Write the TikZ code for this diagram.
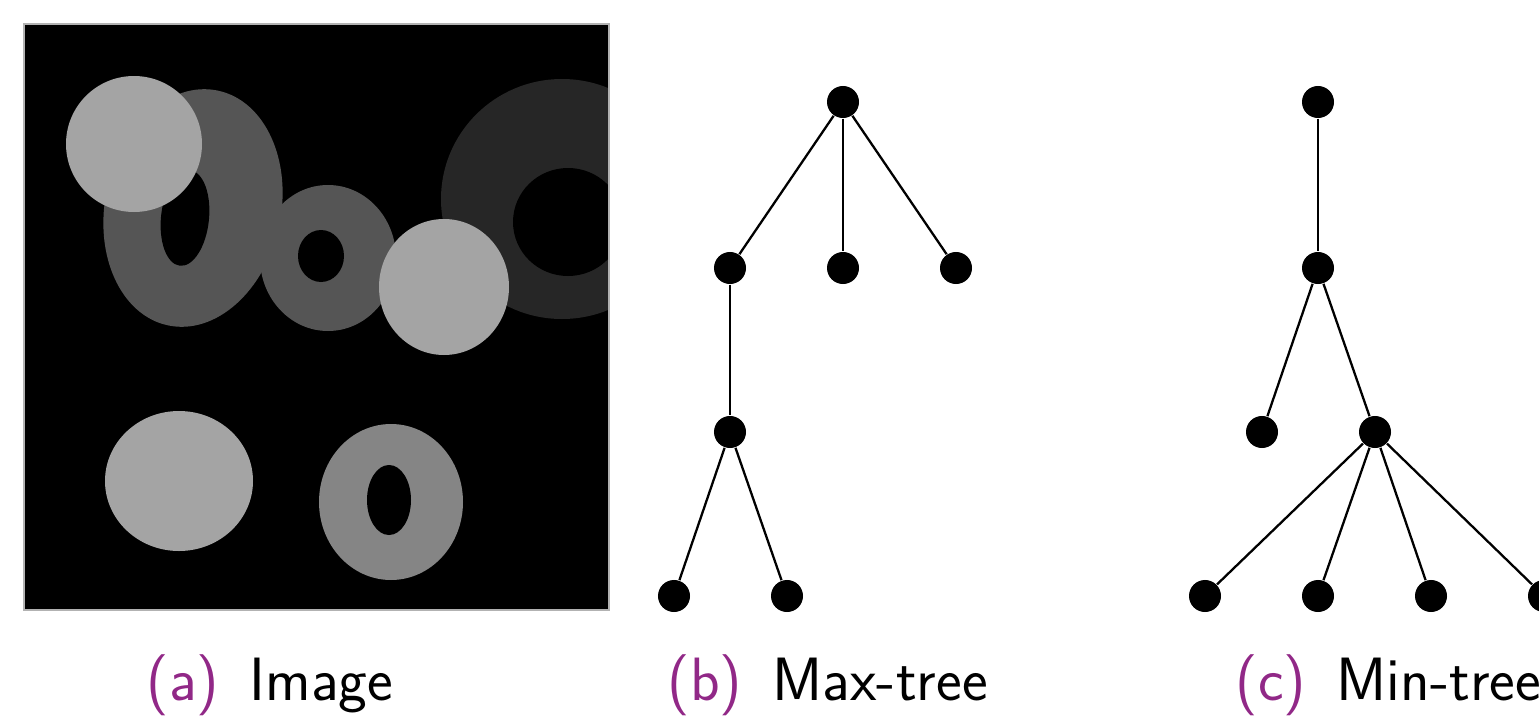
\documentclass[tikz,border=0pt]{standalone}
\usepackage{amssymb}
\usepackage{amsmath}
\definecolor{capcol}{RGB}{145,40,135}
\definecolor{lightdisk}{RGB}{164,164,164}
\definecolor{midring}{RGB}{85,85,85}
\definecolor{darkring}{RGB}{38,38,38}
\definecolor{lowring}{RGB}{133,133,133}

\begin{document}
\begin{tikzpicture}[x=0.01cm,y=-0.01cm]
\tikzstyle{every node}+=[inner sep=0pt]
\tikzstyle{dot}=[circle,fill=black,minimum size=3.2mm]
\tikzstyle{link}=[black,line width=0.65pt]
\tikzstyle{subcap}=[anchor=base west,font=\sffamily\fontsize{17.4}{20}\selectfont]
\clip (0,0) rectangle (1539,718);
% (a) the image
\fill[black] (24,24) rectangle (609,610);
\begin{scope}
\clip (24,24) rectangle (609,610);
\fill[darkring] (562,199) ellipse (121 and 120);
\fill[black] (568,222) ellipse (55 and 54);
\end{scope}
\fill[midring,rotate around={-12:(193,208)}] (193,208) ellipse (88 and 120);
\fill[midring] (328,258) ellipse (68 and 73);
\fill[black,rotate around={-6:(185,218)}] (185,218) ellipse (24 and 48);
\fill[black] (321,256) ellipse (23 and 26);
\fill[lowring] (391,502) ellipse (72 and 78);
\fill[black] (389,500) ellipse (22 and 35);
\fill[lightdisk] (134,144) circle (68);
\fill[lightdisk] (444,287) ellipse (65 and 68);
\fill[lightdisk] (179,481) ellipse (74 and 70);
\draw[gray!60,line width=0.5pt] (24,24) rectangle (609,610);
% (b) max-tree
\node[dot] (b0) at (843,102) {};
\node[dot] (b1) at (730,268) {};
\node[dot] (b2) at (843,268) {};
\node[dot] (b3) at (956,268) {};
\node[dot] (b4) at (730,432) {};
\node[dot] (b5) at (674,596) {};
\node[dot] (b6) at (787,596) {};
\draw[link] (b0) -- (b1);
\draw[link] (b0) -- (b2);
\draw[link] (b0) -- (b3);
\draw[link] (b1) -- (b4);
\draw[link] (b4) -- (b5);
\draw[link] (b4) -- (b6);
% (c) min-tree
\node[dot] (c0) at (1318,102) {};
\node[dot] (c1) at (1318,268) {};
\node[dot] (c2) at (1262,432) {};
\node[dot] (c3) at (1375,432) {};
\node[dot] (c4) at (1205,596) {};
\node[dot] (c5) at (1318,596) {};
\node[dot] (c6) at (1431,596) {};
\node[dot] (c7) at (1544,596) {};
\draw[link] (c0) -- (c1);
\draw[link] (c1) -- (c2);
\draw[link] (c1) -- (c3);
\draw[link] (c3) -- (c4);
\draw[link] (c3) -- (c5);
\draw[link] (c3) -- (c6);
\draw[link] (c3) -- (c7);
% captions
\node[subcap] (capa) at (146,700) {\textcolor{capcol}{(a)}\hspace{0.5em}Image};
\node[subcap] (capb) at (667,700) {\textcolor{capcol}{(b)}\hspace{0.5em}Max-tree};
\node[subcap] (capc) at (1235,700) {\textcolor{capcol}{(c)}\hspace{0.5em}Min-tree};
\end{tikzpicture}
\end{document}
